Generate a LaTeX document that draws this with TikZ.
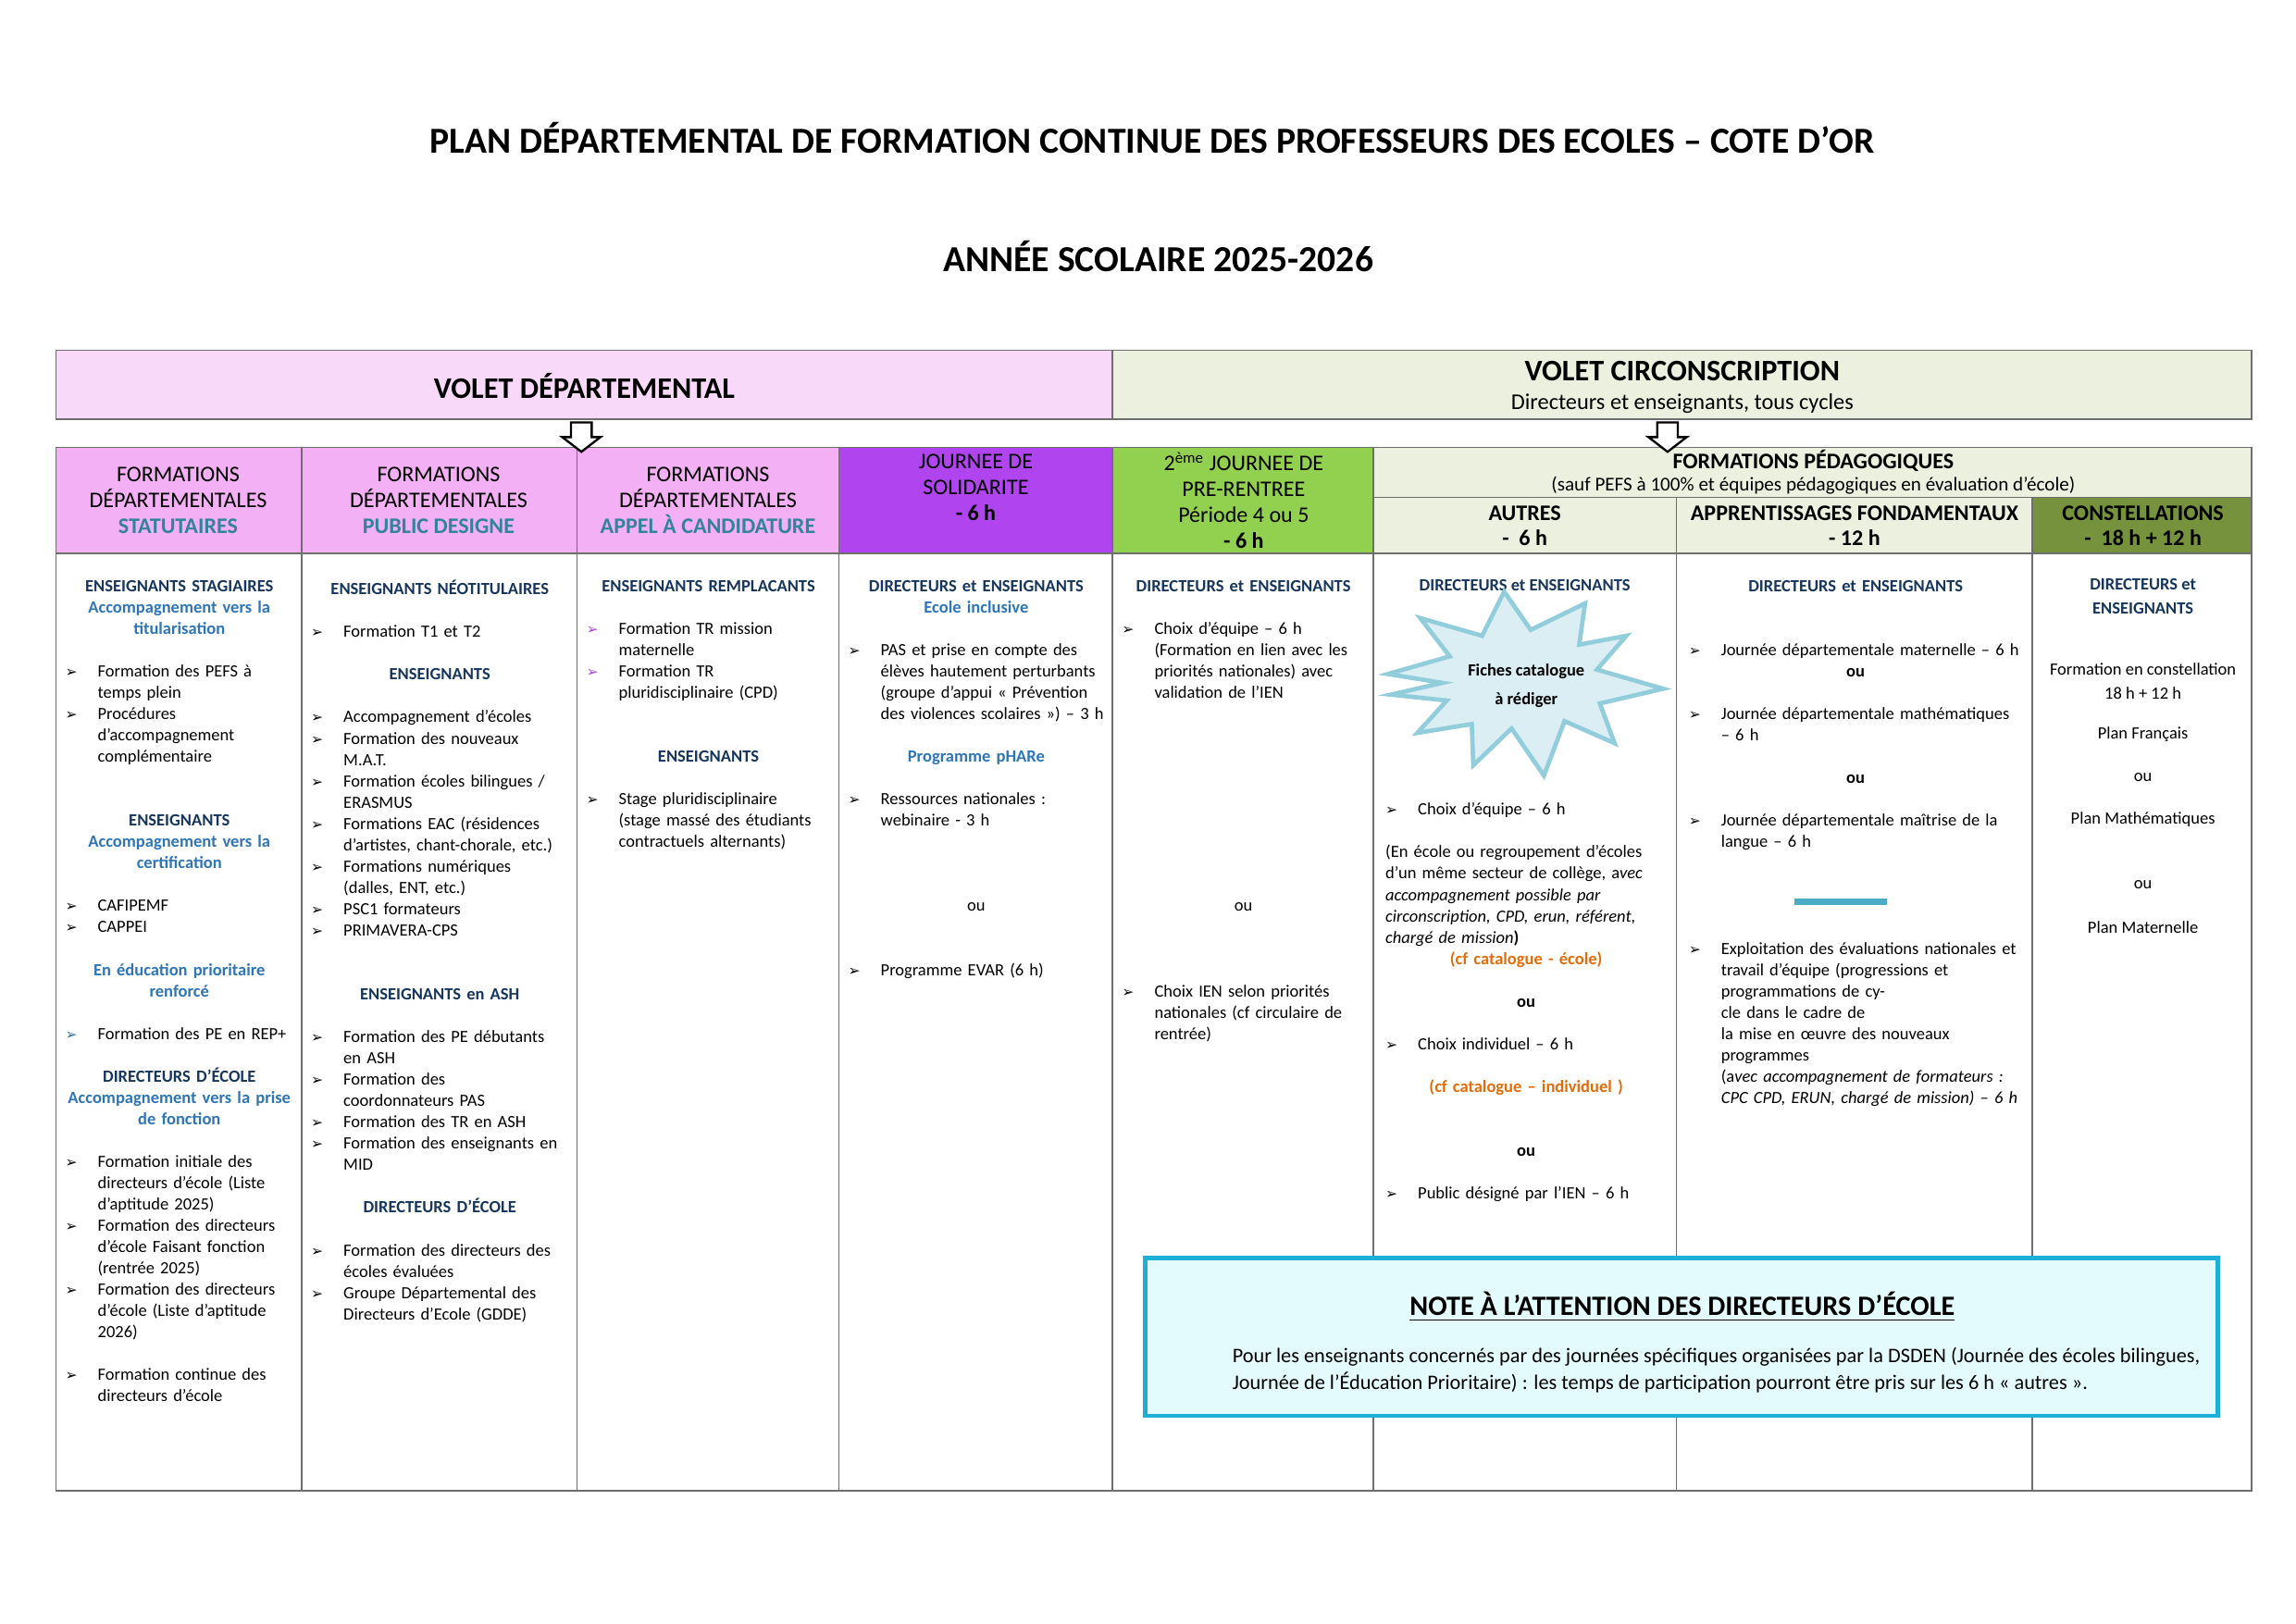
\documentclass[tikz,border=0pt]{standalone}
\usepackage{fontspec}
\setmainfont{Carlito}
\newfontfamily\dv{DejaVu Sans}
\usepackage{xcolor}
\definecolor{pinkA}{HTML}{F9D9F9}
\definecolor{pinkB}{HTML}{F4B0F4}
\definecolor{purp}{HTML}{B045F0}
\definecolor{grn}{HTML}{92D050}
\definecolor{lgrn}{HTML}{EBF1DE}
\definecolor{dgrn}{HTML}{76923C}
\definecolor{navy}{HTML}{17365D}
\definecolor{blueB}{HTML}{2E75B6}
\definecolor{teal}{HTML}{31849B}
\definecolor{orng}{HTML}{E36C09}
\definecolor{cyanB}{HTML}{1CB0D8}
\definecolor{cyanF}{HTML}{E4FBFD}
\definecolor{starF}{HTML}{DAEEF3}
\definecolor{starD}{HTML}{92CDDC}
\definecolor{dashc}{HTML}{4BACC6}
\definecolor{lin}{HTML}{6E6E6E}
\newlength\Hh \setlength\Hh{0.42cm}
\newcommand\bul{{\dv\fontsize{5.3}{7.85}\selectfont ➢}}
\newcommand\itm[2][black]{\par\noindent\hangindent=\Hh\hangafter=1\makebox[\Hh][l]{\color{#1}\bul}#2\par}
\newcommand\ctr[1]{{\centering\leavevmode#1\par}}
\newcommand\gap[1][1]{\par\vspace*{#1\baselineskip}}
\newcommand\nv{\bfseries\color{navy}}
\newcommand\bb{\bfseries\color{blueB}}
\newcommand\fsb{\fontsize{6.3}{7.85}\selectfont}
\begin{document}
\begin{tikzpicture}[x=0.01904cm,y=-0.01904cm,
  col/.style={font=\fsb, inner sep=0, anchor=north west, align=left},
  hdr/.style={font=\fontsize{8.2}{9.5}\selectfont, align=center, inner sep=0},
  lbl/.style={font=\fsb, align=center, inner sep=0},
  grid/.style={draw=lin, line width=0.6pt},
  arrowbox/.style={draw=black, fill=white, line width=0.8pt, line join=miter}]
\path[use as bounding box] (0,0) rectangle (1560,1103);
% titles
\node[font=\fontsize{13.5}{16}\selectfont\bfseries] (t1) at (783,94) {PLAN DÉPARTEMENTAL DE FORMATION CONTINUE DES PROFESSEURS DES ECOLES – COTE D’OR};
\node[font=\fontsize{13.5}{16}\selectfont\bfseries] (t2) at (787,174) {ANNÉE SCOLAIRE 2025-2026};
% top band
\fill[pinkA] (38,238) rectangle (756,285);
\fill[lgrn] (756,238) rectangle (1530,285);
\draw[grid] (38,238) rectangle (1530,285) (756,238) -- (756,285);
\node[font=\fontsize{11}{13}\selectfont\bfseries] (vd) at (397,262) {VOLET DÉPARTEMENTAL};
\node[font=\fontsize{11}{13}\selectfont\bfseries] (vc) at (1143,252) {VOLET CIRCONSCRIPTION};
\node[font=\fontsize{8.3}{10}\selectfont] (vcs) at (1143,274) {Directeurs et enseignants, tous cycles};
% header fills
\fill[pinkB] (38,304) rectangle (570,376);
\fill[purp] (570,304) rectangle (756,376);
\fill[grn] (756,304) rectangle (933,376);
\fill[lgrn] (933,304) rectangle (1381,376);
\fill[lgrn] (1381,304) rectangle (1530,338);
\fill[dgrn] (1381,338) rectangle (1530,376);
% grid
\draw[grid] (38,304) rectangle (1530,1013);
\draw[grid] (38,376) -- (1530,376) (933,338) -- (1530,338);
\foreach \xx in {205,392,570,756,933} \draw[grid] (\xx,304) -- (\xx,1013);
\foreach \xx in {1139,1381} \draw[grid] (\xx,338) -- (\xx,1013);
% arrows
\foreach \ax in {395,1133}
  \draw[arrowbox] (\ax-7,287) -- (\ax+7,287) -- (\ax+7,297) -- (\ax+13,297) -- (\ax,307) -- (\ax-13,297) -- (\ax-7,297) -- cycle;
% headers
\node[hdr] (h1) at (121,340) {FORMATIONS\\DÉPARTEMENTALES\\{\bfseries\color{teal}STATUTAIRES}};
\node[hdr] (h2) at (298,340) {FORMATIONS\\DÉPARTEMENTALES\\{\bfseries\color{teal}PUBLIC DESIGNE}};
\node[hdr] (h3) at (481,340) {FORMATIONS\\DÉPARTEMENTALES\\{\bfseries\color{teal}APPEL À CANDIDATURE}};
\node[hdr] (h4) at (663,331) {JOURNEE DE\\SOLIDARITE\\{\bfseries - 6 h}};
\node[hdr] (h5) at (845,340) {2\textsuperscript{ème} JOURNEE DE\\PRE-RENTREE\\Période 4 ou 5\\{\bfseries - 6 h}};
\node[hdr, font=\fontsize{8.2}{9.5}\selectfont\bfseries] (fp) at (1232,313) {FORMATIONS PÉDAGOGIQUES};
\node[hdr, font=\fontsize{7.2}{8.5}\selectfont] (fps) at (1232,330) {(sauf PEFS à 100\% et équipes pédagogiques en évaluation d’école)};
\node[hdr, font=\fontsize{8.2}{9.2}\selectfont\bfseries] (h6) at (1036,357) {AUTRES\\- \ 6 h};
\node[hdr, font=\fontsize{8.2}{9.2}\selectfont\bfseries] (h7) at (1260,357) {APPRENTISSAGES FONDAMENTAUX\\- 12 h};
\node[hdr, font=\fontsize{8.2}{9.2}\selectfont\bfseries] (h8) at (1456,357) {CONSTELLATIONS\\- \ 18 h + 12 h};
% column 1
\node[col, text width=2.95cm] (c1) at (44,394) {%
\ctr{\nv ENSEIGNANTS STAGIAIRES}
\ctr{\bb Accompagnement vers la\\titularisation}
\gap
\itm{Formation des PEFS à\newline temps plein}
\itm{Procédures\newline d’accompagnement\newline complémentaire}
\gap[2]
\ctr{\nv ENSEIGNANTS}
\ctr{\bb Accompagnement vers la\\certification}
\gap
\itm{CAFIPEMF}
\itm{CAPPEI}
\gap
\ctr{\bb En éducation prioritaire\\renforcé}
\gap
\itm[blueB]{Formation des PE en REP+}
\gap
\ctr{\nv DIRECTEURS D’ÉCOLE}
\ctr{\bb Accompagnement vers la prise\\de fonction}
\gap
\itm{Formation initiale des\newline directeurs d’école (Liste\newline d’aptitude 2025)}
\itm{Formation des directeurs\newline d’école Faisant fonction\newline (rentrée 2025)}
\itm{Formation des directeurs\newline d’école (Liste d’aptitude\newline 2026)}
\gap
\itm{Formation continue des\newline directeurs d’école}};
% column 2
\node[col, text width=3.33cm] (c2) at (211,394) {%
\ctr{\nv ENSEIGNANTS NÉOTITULAIRES}
\gap
\itm{Formation T1 et T2}
\gap
\ctr{\nv ENSEIGNANTS}
\gap
\itm{Accompagnement d’écoles}
\itm{Formation des nouveaux\newline M.A.T.}
\itm{Formation écoles bilingues /\newline ERASMUS}
\itm{Formations EAC (résidences\newline d’artistes, chant-chorale, etc.)}
\itm{Formations numériques\newline (dalles, ENT, etc.)}
\itm{PSC1 formateurs}
\itm{PRIMAVERA-CPS}
\gap[2]
\ctr{\nv ENSEIGNANTS en ASH}
\gap
\itm{Formation des PE débutants\newline en ASH}
\itm{Formation des\newline coordonnateurs PAS}
\itm{Formation des TR en ASH}
\itm{Formation des enseignants en\newline MID}
\gap
\ctr{\nv DIRECTEURS D’ÉCOLE}
\gap
\itm{Formation des directeurs des\newline écoles évaluées}
\itm{Groupe Départemental des\newline Directeurs d’Ecole (GDDE)}};
% column 3
\node[col, text width=3.16cm] (c3) at (398,394) {%
\ctr{\nv ENSEIGNANTS REMPLACANTS}
\gap
\itm[purp]{Formation TR mission\newline maternelle}
\itm[purp]{Formation TR\newline pluridisciplinaire (CPD)}
\gap[2]
\ctr{\nv ENSEIGNANTS}
\gap
\itm{Stage pluridisciplinaire\newline (stage massé des étudiants\newline contractuels alternants)}};
% column 4
\node[col, text width=3.31cm] (c4) at (576,394) {%
\ctr{\nv DIRECTEURS et ENSEIGNANTS}
\ctr{\bb Ecole inclusive}
\gap
\itm{PAS et prise en compte des\newline élèves hautement perturbants\newline (groupe d’appui « Prévention\newline des violences scolaires ») – 3 h}
\gap
\ctr{\bb Programme pHARe}
\gap
\itm{Ressources nationales :\newline webinaire - 3 h}
\gap[3]
\ctr{ou}
\gap[2]
\itm{Programme EVAR (6 h)}};
% column 5
\node[col, text width=3.14cm] (c5) at (762,394) {%
\ctr{\nv DIRECTEURS et ENSEIGNANTS}
\gap
\itm{Choix d’équipe – 6 h\newline (Formation en lien avec les\newline priorités nationales) avec\newline validation de l’IEN}
\gap[9]
\ctr{ou}
\gap[3]
\itm{Choix IEN selon priorités\newline nationales (cf circulaire de\newline rentrée)}};
% column 6
\node[lbl] (c6h) at (1036,398) {\nv DIRECTEURS et ENSEIGNANTS};
\path[fill=starF, draw=starD, line width=1.6pt, line join=miter]
  (1035-92,458) -- (1035-50,446) -- (1035-70,420) -- (1035-28,432) -- (1035-13,402) -- (1035+5,428)
  -- (1035+42,410) -- (1035+38,438) -- (1035+70,432) -- (1035+50,455) -- (1035+95,468) -- (1035+52,478)
  -- (1035+62,505) -- (1035+28,490) -- (1035+14,527) -- (1035-8,495) -- (1035-34,520) -- (1035-35,492)
  -- (1035-72,498) -- (1035-52,476) -- (1035-90,472) -- (1035-55,464) -- cycle;
\node[lbl, font=\fsb\bfseries] (star) at (1037,466) {Fiches catalogue\\[3pt]à rédiger};
\node[col, text width=3.64cm] (c6) at (941,539) {%
\itm{Choix d’équipe – 6 h}
\gap
{\rightskip=0pt\relax\noindent(En école ou regroupement d’écoles\linebreak d’un même secteur de collège, a{\itshape vec\linebreak accompagnement possible par\linebreak circonscription, CPD, erun, référent,\linebreak chargé de mission}{\bfseries )}\par}
\ctr{\bfseries\color{orng}(cf catalogue - école)}
\gap
\ctr{\bfseries ou}
\gap
\itm{Choix individuel – 6 h}
\gap
\ctr{\bfseries\color{orng}(cf catalogue – individuel )}
\gap[2]
\ctr{\bfseries ou}
\gap
\itm{Public désigné par l’IEN – 6 h}};
% column 7
\node[col, text width=4.32cm] (c7) at (1147,394) {%
\ctr{\nv DIRECTEURS et ENSEIGNANTS}
\gap[2]
\itm{Journée départementale maternelle – 6 h}
\ctr{\bfseries ou}
\gap
\itm{Journée départementale mathématiques\newline – 6 h}
\gap
\ctr{\bfseries ou}
\gap
\itm{Journée départementale maîtrise de la\newline langue – 6 h}
\gap[4]
{\rightskip=0pt\relax\itm{Exploitation des évaluations nationales et\linebreak travail d’équipe (progressions et\linebreak programmations de cycle dans le cadre de\linebreak la mise en œuvre des nouveaux\linebreak programmes\newline (a{\itshape vec accompagnement de formateurs :\newline CPC CPD, ERUN, chargé de mission) – 6 h}}}};
\coordinate (dA) at (1219,613);
\coordinate (dB) at (1282,613);
\draw[draw=dashc, line width=2.4pt] (dA) -- (dB);
% column 8
\node[lbl] (c8a) at (1456,405) {\nv DIRECTEURS et\\[1pt]\nv ENSEIGNANTS};
\node[lbl] (c8b) at (1456,463) {Formation en constellation\\[1pt]18 h + 12 h};
\node[lbl] (c8c) at (1456,499) {Plan Français};
\node[lbl] (c8d) at (1456,528) {ou};
\node[lbl] (c8e) at (1456,557) {Plan Mathématiques};
\node[lbl] (c8f) at (1456,601) {ou};
\node[lbl] (c8g) at (1456,630) {Plan Maternelle};
% note box
\draw[draw=cyanB, fill=cyanF, line width=1.6pt] (778,855) rectangle (1507,962);
\node[font=\fontsize{10.3}{12}\selectfont\bfseries, inner sep=0] (nt) at (1143,888) {\underline{NOTE À L’ATTENTION DES DIRECTEURS D’ÉCOLE}};
\node[font=\fontsize{7.6}{10}\selectfont, align=left, anchor=north west, inner sep=0] (ntx) at (837,915) {Pour les enseignants concernés par des journées spécifiques organisées par la DSDEN (Journée des écoles bilingues,\\Journée de l’Éducation Prioritaire) : les temps de participation pourront être pris sur les 6 h « autres ».};
\end{tikzpicture}
\end{document}
